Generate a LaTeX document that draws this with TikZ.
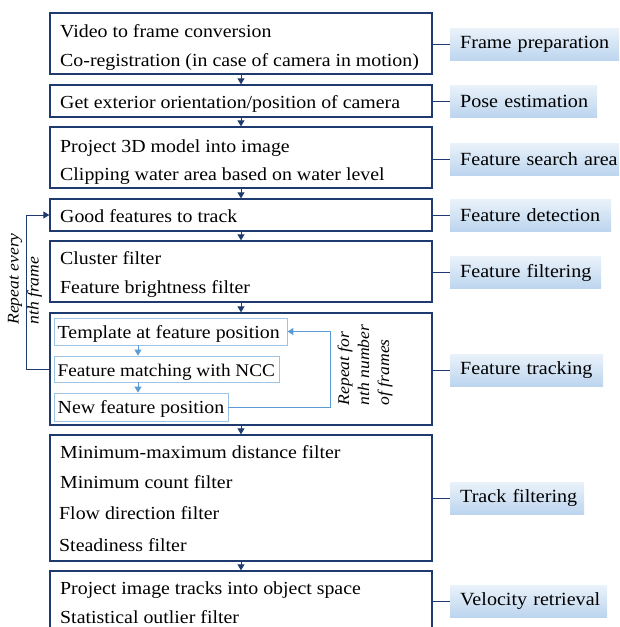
\documentclass[tikz,border=0pt]{standalone}
\usepackage{fontspec}
\setmainfont[FakeStretch=1.08]{Liberation Serif}
\usetikzlibrary{arrows.meta}
\definecolor{navy}{HTML}{1F3A6E}
\definecolor{lightb}{HTML}{9DC3E6}
\definecolor{loopb}{HTML}{5B9BD5}
\definecolor{tagtop}{HTML}{EAF2FA}
\definecolor{tagbot}{HTML}{BCD5EE}
\tikzset{
  mainbox/.style={draw=navy, line width=1.3pt, minimum width=382pt, inner sep=0pt},
  innerbox/.style={draw=lightb, line width=0.9pt, inner sep=0pt},
  txt/.style={anchor=base west, inner sep=0pt, font=\fontsize{18.4}{22}\selectfont},
  tag/.style={anchor=west, minimum height=32pt, inner xsep=10pt, inner ysep=0pt, align=left,
    top color=tagtop, bottom color=tagbot, font=\fontsize{18.6}{22}\selectfont},
  conn/.style={draw=navy, line width=1pt},
  flow/.style={draw=navy, line width=1pt, -{Triangle[width=7pt,length=6pt]}},
  iflow/.style={draw=loopb, line width=1pt, -{Triangle[width=7pt,length=6pt]}},
  rot/.style={rotate=90, align=left, inner sep=0pt, font=\itshape\fontsize{16.3}{20}\selectfont}
}
\begin{document}
\begin{tikzpicture}[x=1pt,y=-1pt]
\useasboundingbox (0,0) rectangle (619,627);
\clip (0,0) rectangle (619,627);
% main boxes
\node[mainbox, minimum height=61pt] (b1) at (241,43.5) {};
\node[mainbox, minimum height=32pt] (b2) at (241,101) {};
\node[mainbox, minimum height=61pt] (b3) at (241,157.5) {};
\node[mainbox, minimum height=32pt] (b4) at (241,215) {};
\node[mainbox, minimum height=61pt] (b5) at (241,271.5) {};
\node[mainbox, minimum height=112pt] (b6) at (241,369) {};
\node[mainbox, minimum height=126pt] (b7) at (241,498) {};
\node[mainbox, minimum height=61pt] (b8) at (241,601.5) {};
% texts
\node[txt] (t11) at (60,37) {Video to frame conversion};
\node[txt] (t12) at (60,66) {Co-registration (in case of camera in motion)};
\node[txt] (t21) at (60,108) {Get exterior orientation/position of camera};
\node[txt] (t31) at (60,152) {Project 3D model into image};
\node[txt] (t32) at (60,180) {Clipping water area based on water level};
\node[txt] (t41) at (60,222) {Good features to track};
\node[txt] (t51) at (60,264) {Cluster filter};
\node[txt] (t52) at (60,293) {Feature brightness filter};
\node[txt] (t71) at (60,458) {Minimum-maximum distance filter};
\node[txt] (t72) at (60,488) {Minimum count filter};
\node[txt] (t73) at (59,519) {Flow direction filter};
\node[txt] (t74) at (59,551) {Steadiness filter};
\node[txt] (t81) at (60,594) {Project image tracks into object space};
\node[txt] (t82) at (60,623) {Statistical outlier filter};
% inner boxes
\node[innerbox, minimum width=233pt, minimum height=27pt] (i1) at (170.5,331.5) {};
\node[innerbox, minimum width=225pt, minimum height=26pt] (i2) at (166.5,369) {};
\node[innerbox, minimum width=174pt, minimum height=28pt] (i3) at (141,407) {};
\node[txt] (it1) at (57.5,338) {Template at feature position};
\node[txt, font=\fontsize{17.8}{22}\selectfont] (it2) at (57.5,376) {Feature matching with NCC};
\node[txt] (it3) at (57.5,413) {New feature position};
% tags
\node[tag, text width=170pt] (l1) at (450,44.5) {\mbox{Frame preparation}};
\node[tag, text width=127pt] (l2) at (450,101) {\mbox{Pose estimation}};
\node[tag, text width=170pt] (l3) at (450,159) {\mbox{Feature search area}};
\node[tag, text width=141pt] (l4) at (450,215) {\mbox{Feature detection}};
\node[tag, text width=131pt] (l5) at (450,272.5) {\mbox{Feature filtering}};
\node[tag, text width=133pt] (l6) at (450,370) {\mbox{Feature tracking}};
\node[tag, text width=114pt] (l7) at (450,498) {\mbox{Track filtering}};
\node[tag, text width=137pt] (l8) at (450,601) {\mbox{Velocity retrieval}};
% connectors to tags
\foreach \i in {1,...,8} { \draw[conn] (b\i.east |- l\i.west) -- (l\i.west); }
% flow arrows
\draw[flow] (b1.south) -- (b2.north);
\draw[flow] (b2.south) -- (b3.north);
\draw[flow] (b3.south) -- (b4.north);
\draw[flow] (b4.south) -- (b5.north);
\draw[flow] (b5.south) -- (b6.north);
\draw[flow] (b6.south) -- (b7.north);
\draw[flow] (b7.south) -- (b8.north);
% inner arrows
\coordinate (ax) at (138,0);
\draw[iflow] (ax |- i1.south) -- (ax |- i2.north);
\draw[iflow] (ax |- i2.south) -- (ax |- i3.north);
% loops
\coordinate (lx) at (26,0);
\draw[flow] (b6.west) -- (lx |- b6.west) -- (lx |- b4.west) -- (b4.west);
\coordinate (rx) at (330,0);
\draw[iflow] (i3.east) -- (rx |- i3.east) -- (rx |- i1.east) -- (i1.east);
\node[rot] (r1) at (25,279) {Repeat every\\nth frame};
\node[rot] (r2) at (365,365) {Repeat for\\nth number\\of frames};
\end{tikzpicture}
\end{document}
